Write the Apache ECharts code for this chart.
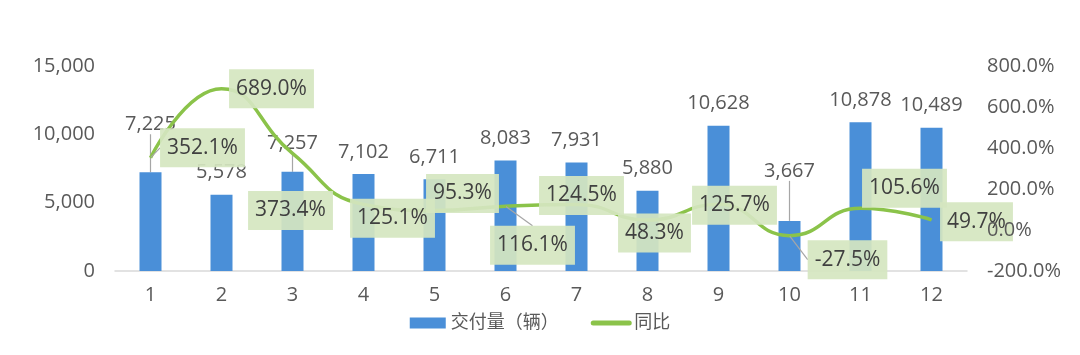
<!DOCTYPE html>
<html>
<head>
<meta charset="utf-8">
<script src="https://cdn.jsdelivr.net/npm/echarts@6/dist/echarts.min.js"></script>
<style>html,body{margin:0;padding:0;background:#fff}#c{width:1080px;height:355px}</style>
</head>
<body>
<div id="c"></div>
<script>
var categories = ['1','2','3','4','5','6','7','8','9','10','11','12'];
var deliveries = [7225, 5578, 7257, 7102, 6711, 8083, 7931, 5880, 10628, 3667, 10878, 10489];
var yoy = [352.1, 689.0, 373.4, 125.1, 95.3, 116.1, 124.5, 48.3, 125.7, -27.5, 105.6, 49.7];
var leftTicks = [0, 5000, 10000, 15000];
var rightTicks = [-200, 0, 200, 400, 600, 800];

// label placement (style only)
var barLabelDy = [-26, 0, -7, 0, 0, 0, 0, 0, 0, -28, 0, 0];
var barLabelLine = [true, false, true, false, false, false, false, false, false, true, false, false];
var lineLabelOff = [[52,-10],[50,0],[-2,57],[29,14],[28,-17],[27,39],[5,-9],[7,13],[16,1],[58,24],[44,-20],[45,2]];
var lineLabelLine = [true, false, false, false, false, true, false, false, false, true, false, false];

var font = '"Open Sans", "Noto Sans CJK SC", sans-serif';
var chart = echarts.init(document.getElementById('c'));
chart.setOption({
  animation: false,
  textStyle: {fontFamily: font},
  grid: {left: 115, right: 113, top: 66, bottom: 84},
  legend: {
    bottom: 18, left: 'center', itemGap: 32,
    textStyle: {fontSize: 18, color: '#595959', fontFamily: font},
    data: [
      {name: '交付量（辆）', icon: 'rect', itemStyle: {color: '#4A8FD8'}},
      {name: '同比', itemStyle: {opacity: 0}, lineStyle: {width: 5, color: '#8BC34A', cap: 'round'}}
    ],
    itemWidth: 36, itemHeight: 11
  },
  xAxis: {
    type: 'category', data: categories,
    axisLine: {lineStyle: {color: '#D9D9D9', width: 1.5}},
    axisTick: {show: false},
    axisLabel: {fontSize: 20, color: '#595959', margin: 14, fontFamily: font}
  },
  yAxis: [
    {type: 'value', min: leftTicks[0], max: leftTicks[leftTicks.length-1], interval: 5000,
     splitLine: {show: false}, axisLine: {show: false}, axisTick: {show: false},
     axisLabel: {fontSize: 20, color: '#595959', margin: 20, fontFamily: font,
       formatter: function(v){ return v.toLocaleString('en-US'); }}},
    {type: 'value', min: rightTicks[0], max: rightTicks[rightTicks.length-1], interval: 200, z: 10,
     splitLine: {show: false}, axisLine: {show: false}, axisTick: {show: false},
     axisLabel: {fontSize: 20, color: '#595959', margin: 20, fontFamily: font,
       formatter: function(v){ return v.toFixed(1) + '%'; }}}
  ],
  series: [
    {
      name: '交付量（辆）', type: 'bar', yAxisIndex: 0, barWidth: 22,
      itemStyle: {color: '#4A8FD8'},
      data: deliveries.map(function(v, i){
        return {value: v, labelLine: {show: barLabelLine[i], lineStyle: {color: '#A6A6A6', width: 1.2}}};
      }),
      label: {show: true, position: 'top', distance: 12, fontSize: 20, color: '#595959', fontFamily: font,
        formatter: function(p){ return p.value.toLocaleString('en-US'); }},
      labelLayout: function(p){ return {dy: barLabelDy[p.dataIndex]}; },
      z: 2
    },
    {
      name: '同比', type: 'line', yAxisIndex: 1, smooth: 0.5,
      symbol: 'circle', symbolSize: 1, showSymbol: true,
      lineStyle: {color: '#8BC34A', width: 3.5},
      itemStyle: {color: '#8BC34A'},
      data: yoy.map(function(v, i){
        return {value: v, labelLine: {show: lineLabelLine[i], lineStyle: {color: '#A6A6A6', width: 1.2}}};
      }),
      label: {show: true, position: 'inside', fontSize: 21, color: '#404040', fontFamily: font,
        backgroundColor: 'rgba(213,230,192,0.92)', padding: [10, 7, 8, 7],
        formatter: function(p){ return p.value.toFixed(1) + '%'; }},
      labelLayout: function(p){ var o = lineLabelOff[p.dataIndex]; return {dx: o[0], dy: o[1]}; },
      z: 5
    }
  ]
});
</script>
</body>
</html>
